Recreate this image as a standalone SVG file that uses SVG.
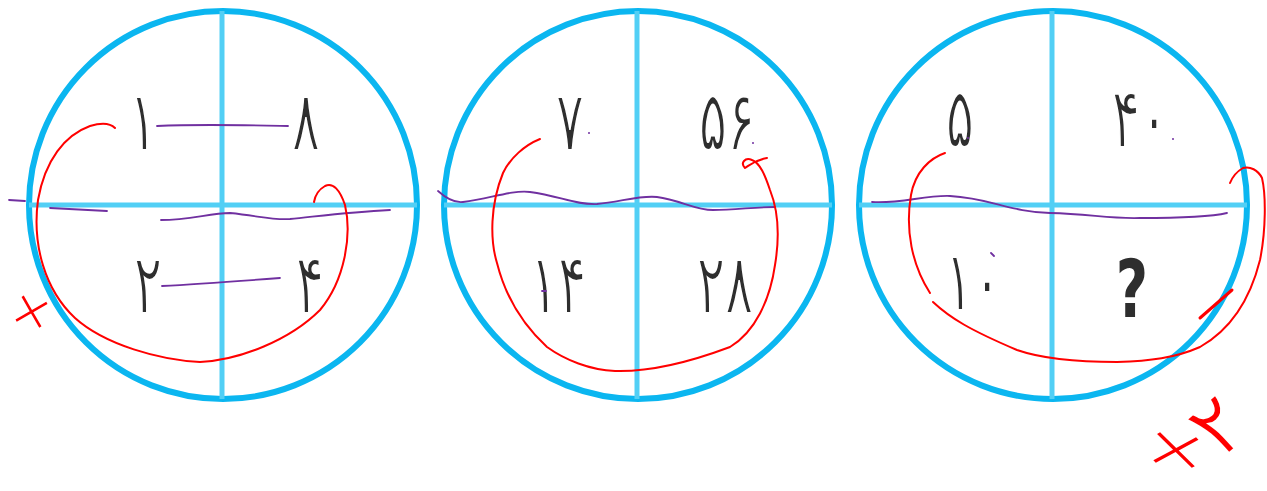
<svg xmlns="http://www.w3.org/2000/svg" width="1267" height="491" viewBox="0 0 1267 491">
<style>
.ring{fill:none;stroke:#0bb6f0;stroke-width:6}
.div{stroke:#52cff5;stroke-width:5}
.num{font-family:"DejaVu Sans",sans-serif;font-size:62px;fill:#2e2e2e;text-anchor:middle;stroke:#ffffff;stroke-width:1.6}
.red{fill:none;stroke:#ff0000;stroke-width:2;stroke-linecap:round;stroke-linejoin:round}
.pur{fill:none;stroke:#7030a0;stroke-width:1.8;stroke-linecap:round}
.hand{font-family:"DejaVu Sans",sans-serif;font-weight:200;fill:#ff0000;text-anchor:middle}
</style>
<rect width="1267" height="491" fill="#ffffff"/>
<g id="circle1">
<circle class="ring" cx="223" cy="205" r="194"/>
<line class="div" x1="222" y1="11" x2="222" y2="399"/>
<line class="div" x1="29" y1="205" x2="417" y2="205"/>
<text class="num" transform="translate(143 150) scale(0.85 1.35)">۱</text>
<text class="num" transform="translate(306 150) scale(0.85 1.35)">۸</text>
<text class="num" transform="translate(148 313) scale(0.85 1.35)">۲</text>
<text class="num" transform="translate(310 313) scale(0.85 1.35)">۴</text>
</g>
<g id="circle2">
<circle class="ring" cx="638" cy="205" r="194"/>
<line class="div" x1="637" y1="11" x2="637" y2="399"/>
<line class="div" x1="444" y1="205" x2="832" y2="205"/>
<text class="num" transform="translate(570 150) scale(0.85 1.35)">۷</text>
<text class="num" transform="translate(727 150) scale(0.85 1.35)">۵۶</text>
<text class="num" transform="translate(558 313) scale(0.85 1.35)">۱۴</text>
<text class="num" transform="translate(725 313) scale(0.85 1.35)">۲۸</text>
</g>
<g id="circle3">
<circle class="ring" cx="1053" cy="205" r="194"/>
<line class="div" x1="1052" y1="11" x2="1052" y2="399"/>
<line class="div" x1="859" y1="205" x2="1247" y2="205"/>
<text class="num" transform="translate(960 147) scale(0.85 1.35)">۵</text>
<text class="num" transform="translate(1140 147) scale(0.85 1.35)">۴۰</text>
<text class="num" transform="translate(973 310) scale(0.85 1.35)">۱۰</text>
<text class="num" font-weight="bold" style="stroke:none" transform="translate(1132 317) scale(0.9 1.3)">?</text>
</g>
<g id="connectors">
<path class="pur" d="M157,126 C200,124 240,125 288,126"/>
<path class="pur" d="M162,286 C200,284 240,281 280,278"/>
<path class="pur" d="M9,200 L25,201 M50,208 L107,211 M161,220 C190,220 210,213 230,213 C260,216 270,220 290,219 C320,216 350,212 390,210"/>
<path class="pur" d="M438,191 C448,200 455,203 463,202 C490,199 510,190 530,192 C560,196 575,205 597,204 C620,202 640,195 657,197 C680,200 695,210 713,210 C735,210 755,207 775,207"/>
<circle cx="589" cy="133" r="1" fill="#7030a0"/>
<circle cx="753" cy="143" r="1" fill="#7030a0"/>
<path class="pur" d="M542,291 L546,291"/>
<path class="pur" d="M872,202 C900,204 925,195 950,196 C990,198 1010,212 1050,213 C1090,214 1110,219 1140,218 C1180,218 1210,217 1227,213"/>
<circle cx="1173" cy="139" r="1" fill="#7030a0"/>
<circle cx="968" cy="138" r="1" fill="#7030a0"/>
<path class="pur" d="M991,253 L994,256"/>
<path class="red" d="M115,128 C110,123 100,123 90,126 C65,135 45,160 38,200 C32,245 45,290 75,318 C105,345 160,360 200,362 C240,360 290,340 320,310 C345,280 352,235 345,205 C340,190 333,182 325,186 C318,190 315,196 314,202"/>
<path class="red" d="M540,139 C525,145 510,158 503,173 C490,205 490,240 497,263 C505,295 520,322 547,347 C565,360 590,370 615,371 C650,372 690,362 730,347 C755,332 770,300 775,265 C780,235 778,210 770,190 C765,175 760,163 752,160 C745,157 740,163 745,168 C750,165 755,160 767,158"/>
<path class="red" d="M945,153 C930,158 915,172 911,195 C905,230 912,265 930,293"/>
<path class="red" d="M933,302 C950,318 970,330 1017,350 C1040,358 1070,362 1117,362 C1150,361 1175,358 1200,347 C1230,330 1250,300 1260,260 C1266,230 1266,195 1262,178 C1258,170 1250,166 1243,168 C1236,172 1232,178 1230,183"/>
<path class="red" style="stroke-width:3" d="M1200,318 L1232,290"/>
<text class="hand" x="32" y="328" font-size="52" transform="rotate(15 32 310)">×</text>
<text class="hand" x="0" y="17" font-size="54" transform="translate(1176 450) rotate(8) scale(1.5 1.1)">×</text>
<text class="hand" x="1218" y="454" font-size="84" style="stroke:#ffffff;stroke-width:2" transform="rotate(-41 1218 427)">۲</text>
</g>
</svg>
